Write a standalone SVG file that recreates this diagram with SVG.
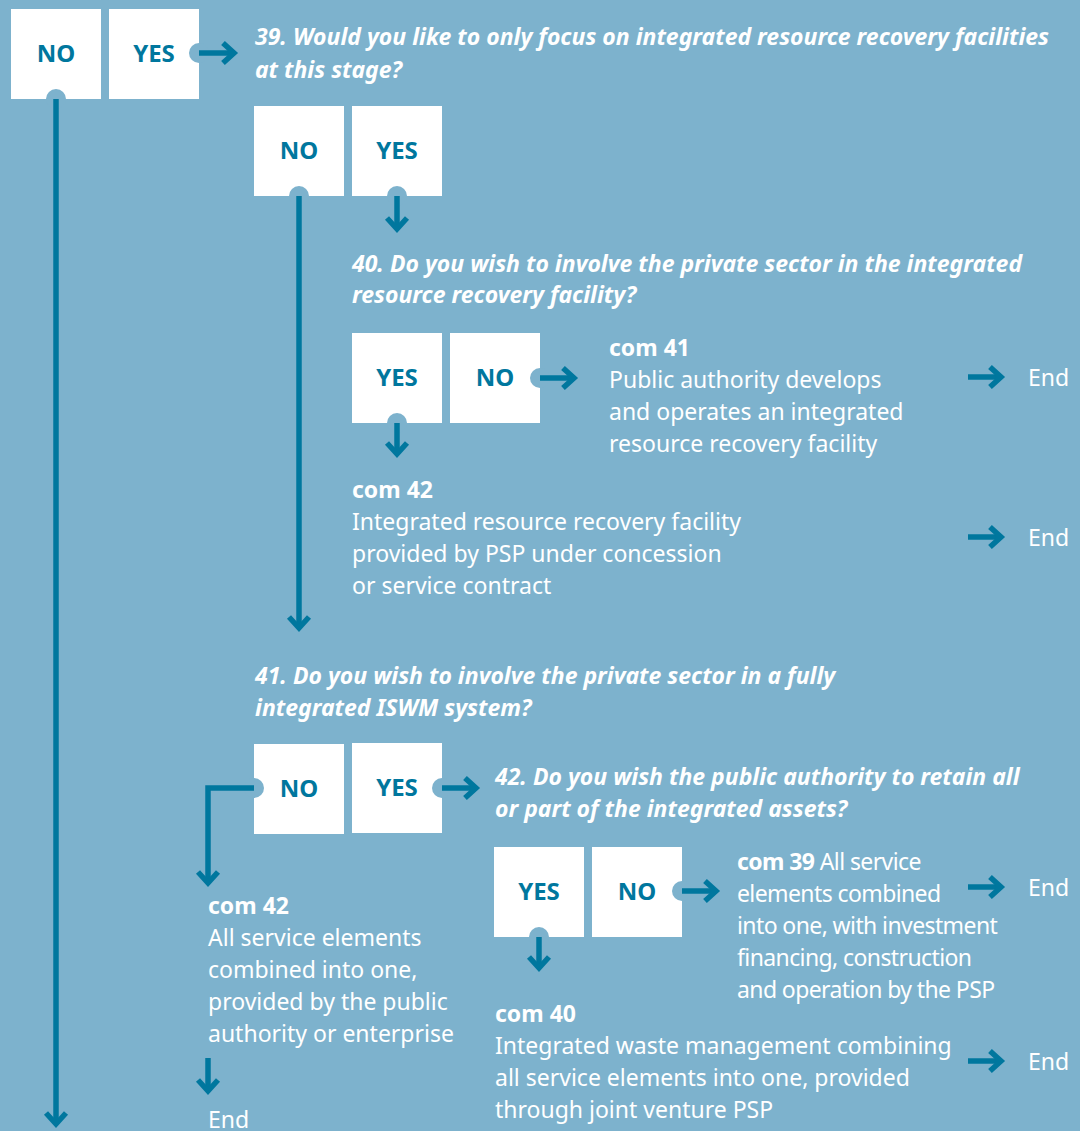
<svg xmlns="http://www.w3.org/2000/svg" width="1080" height="1131" viewBox="0 0 1080 1131">
  <style>
    .box { fill: #ffffff; }
    .notch { fill: #7db2cd; }
    .lbl { font-family: "Noto Sans", "Open Sans", sans-serif; font-weight: bold; font-size: 24px; fill: #00779e; text-anchor: middle; }
    .q { font-family: "Noto Sans", "Open Sans", sans-serif; font-weight: bold; font-style: italic; font-size: 23px; fill: #ffffff; }
    .t { font-family: "Noto Sans", "Open Sans", sans-serif; font-size: 23px; fill: #ffffff; }
    .tight { letter-spacing: -0.6px; }
    .b { font-weight: bold; }
    .ln { fill: none; stroke: #00779e; stroke-width: 5.5; }
  </style>
  <defs>
    <marker id="head" markerUnits="userSpaceOnUse" viewBox="-14 -12 16 24" refX="0" refY="0" markerWidth="16" markerHeight="24" orient="auto" overflow="visible">
      <path d="M-11,-10 L0,0 L-11,10" fill="none" stroke="#00779e" stroke-width="5.5" stroke-linejoin="miter"/>
    </marker>
  </defs>

  <rect width="1080" height="1131" fill="#7db2cd"/>

  <!-- answer boxes -->
  <g id="q39-no"><rect class="box" x="11" y="9" width="90" height="90"/><circle class="notch" cx="56" cy="99" r="10"/><text class="lbl" x="56" y="62">NO</text></g>
  <g id="q39-yes"><rect class="box" x="109" y="9" width="90" height="90"/><circle class="notch" cx="199" cy="53" r="10"/><text class="lbl" x="154" y="62">YES</text></g>

  <g id="q39">
    <text class="q" x="255" y="45">39. Would you like to only focus on integrated resource recovery facilities</text>
    <text class="q" x="255" y="78">at this stage?</text>
  </g>

  <g id="q40-no"><rect class="box" x="254" y="106" width="90" height="90"/><circle class="notch" cx="299" cy="196" r="10"/><text class="lbl" x="299" y="159">NO</text></g>
  <g id="q40-yes"><rect class="box" x="352" y="106" width="90" height="90"/><circle class="notch" cx="397" cy="196" r="10"/><text class="lbl" x="397" y="159">YES</text></g>

  <g id="q40">
    <text class="q" x="352" y="272">40. Do you wish to involve the private sector in the integrated</text>
    <text class="q" x="352" y="303">resource recovery facility?</text>
  </g>

  <g id="q40b-yes"><rect class="box" x="352" y="333" width="90" height="90"/><circle class="notch" cx="397" cy="423" r="10"/><text class="lbl" x="397" y="386">YES</text></g>
  <g id="q40b-no"><rect class="box" x="450" y="333" width="90" height="90"/><circle class="notch" cx="540" cy="378" r="10"/><text class="lbl" x="495" y="386">NO</text></g>

  <g id="com41">
    <text class="t b" x="609" y="356">com 41</text>
    <text class="t" x="609" y="388">Public authority develops</text>
    <text class="t" x="609" y="420">and operates an integrated</text>
    <text class="t" x="609" y="452">resource recovery facility</text>
  </g>
  <g id="end1"><text class="t" x="1028" y="386">End</text></g>

  <g id="com42a">
    <text class="t b" x="352" y="498">com 42</text>
    <text class="t" x="352" y="530">Integrated resource recovery facility</text>
    <text class="t" x="352" y="562">provided by PSP under concession</text>
    <text class="t" x="352" y="594">or service contract</text>
  </g>
  <g id="end2"><text class="t" x="1028" y="546">End</text></g>

  <g id="q41">
    <text class="q" x="255" y="684">41. Do you wish to involve the private sector in a fully</text>
    <text class="q" x="255" y="716">integrated ISWM system?</text>
  </g>

  <g id="q41-no"><rect class="box" x="254" y="744" width="90" height="90"/><circle class="notch" cx="254" cy="788" r="10"/><text class="lbl" x="299" y="797">NO</text></g>
  <g id="q41-yes"><rect class="box" x="352" y="743" width="90" height="90"/><circle class="notch" cx="442" cy="788" r="10"/><text class="lbl" x="397" y="796">YES</text></g>

  <g id="q42">
    <text class="q" x="495" y="785">42. Do you wish the public authority to retain all</text>
    <text class="q" x="495" y="817">or part of the integrated assets?</text>
  </g>

  <g id="q42-yes"><rect class="box" x="494" y="847" width="90" height="90"/><circle class="notch" cx="539" cy="937" r="10"/><text class="lbl" x="539" y="900">YES</text></g>
  <g id="q42-no"><rect class="box" x="592" y="847" width="90" height="90"/><circle class="notch" cx="682" cy="891" r="10"/><text class="lbl" x="637" y="900">NO</text></g>

  <g id="com39">
    <text class="t tight" x="737" y="870"><tspan class="b">com 39</tspan> All service</text>
    <text class="t tight" x="737" y="902">elements combined</text>
    <text class="t tight" x="737" y="934">into one, with investment</text>
    <text class="t tight" x="737" y="966">financing, construction</text>
    <text class="t tight" x="737" y="998">and operation by the PSP</text>
  </g>
  <g id="end3"><text class="t" x="1028" y="896">End</text></g>

  <g id="com42b">
    <text class="t b" x="208" y="914">com 42</text>
    <text class="t" x="208" y="946">All service elements</text>
    <text class="t" x="208" y="978">combined into one,</text>
    <text class="t" x="208" y="1010">provided by the public</text>
    <text class="t" x="208" y="1042">authority or enterprise</text>
  </g>
  <g id="end5"><text class="t" x="208" y="1128">End</text></g>

  <g id="com40">
    <text class="t b" x="495" y="1022">com 40</text>
    <text class="t" x="495" y="1054">Integrated waste management combining</text>
    <text class="t" x="495" y="1086">all service elements into one, provided</text>
    <text class="t" x="495" y="1118">through joint venture PSP</text>
  </g>
  <g id="end4"><text class="t" x="1028" y="1070">End</text></g>

  <!-- connectors, drawn last so they start right at the box edges -->
  <g id="connectors">
    <path class="ln" d="M56,99 V1124" marker-end="url(#head)"/>
    <path class="ln" d="M199,53 H234" marker-end="url(#head)"/>
    <path class="ln" d="M299,196 V628" marker-end="url(#head)"/>
    <path class="ln" d="M397,196 V229" marker-end="url(#head)"/>
    <path class="ln" d="M397,423 V454" marker-end="url(#head)"/>
    <path class="ln" d="M540,378 H574" marker-end="url(#head)"/>
    <path class="ln" d="M968,377 H1001" marker-end="url(#head)"/>
    <path class="ln" d="M968,537 H1001" marker-end="url(#head)"/>
    <path class="ln" d="M254,788 H208 V883" marker-end="url(#head)"/>
    <path class="ln" d="M442,788 H476" marker-end="url(#head)"/>
    <path class="ln" d="M539,937 V968" marker-end="url(#head)"/>
    <path class="ln" d="M682,891 H716" marker-end="url(#head)"/>
    <path class="ln" d="M968,887 H1001" marker-end="url(#head)"/>
    <path class="ln" d="M208,1058 V1091" marker-end="url(#head)"/>
    <path class="ln" d="M968,1061 H1001" marker-end="url(#head)"/>
  </g>
</svg>
